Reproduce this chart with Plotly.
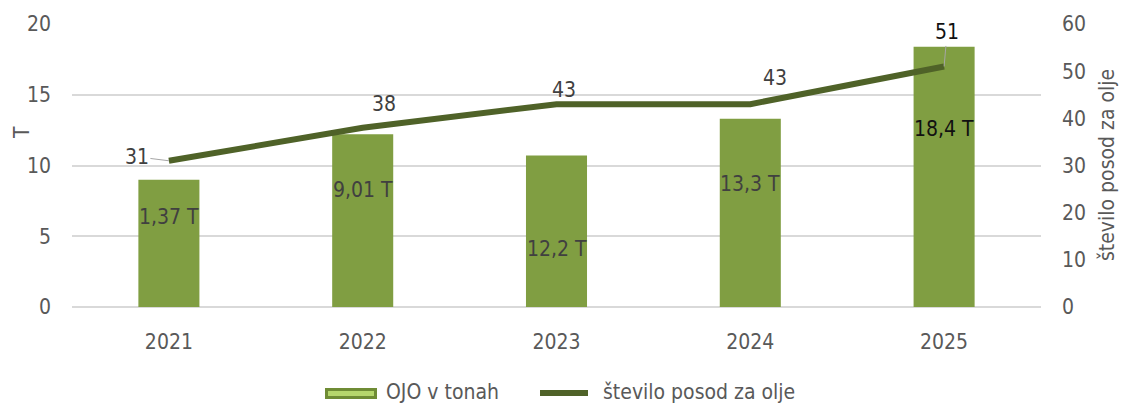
import plotly.graph_objects as go

# Data
years = ["2021", "2022", "2023", "2024", "2025"]
ojo_tonnes = [9.0, 12.2, 10.7, 13.3, 18.4]           # bar heights (T)
ojo_labels = ["1,37 T", "9,01 T", "12,2 T", "13,3 T", "18,4 T"]
container_count = [31, 38, 43, 43, 51]                 # število posod za olje

# Styling / label placement
FONT = "DejaVu Sans Condensed, DejaVu Sans, sans-serif"
BAR_COLOR = "#809E42"
LINE_COLOR = "#4F6228"
TEXT_COLOR = "#404040"
TICK_COLOR = "#595959"
GRID_COLOR = "#D9D9D9"
bar_label_shift = [-37, -56, -93, -65, -82]            # px below bar top
line_label_shift = [(0, 0), (21, 24), (7, 14), (25, 26), (0, 0)]

xpos = list(range(len(years)))

fig = go.Figure()

fig.add_trace(go.Bar(
    x=xpos, y=ojo_tonnes, name="OJO v tonah",
    marker=dict(color=BAR_COLOR, line=dict(width=0)),
    width=0.315, yaxis="y", showlegend=False,
))

fig.add_trace(go.Scatter(
    x=xpos, y=container_count, name="število posod za olje",
    mode="lines", line=dict(color=LINE_COLOR, width=6),
    yaxis="y2", showlegend=False,
))

W, H = 1123, 403
ML, MR, MT, MB = 72, 82, 24, 96
pw, ph = W - ML - MR, H - MT - MB


def px_x(px):
    return (px - ML) / pw


def px_y(py):
    return (H - MB - py) / ph


annotations = []

# Bar value labels
for i, (h, lab) in enumerate(zip(ojo_tonnes, ojo_labels)):
    last = i == len(years) - 1
    annotations.append(dict(
        x=xpos[i], y=h, xref="x", yref="y", text=lab, showarrow=False,
        yshift=bar_label_shift[i], yanchor="middle",
        font=dict(family=FONT, size=21, color="#111111" if last else TEXT_COLOR),
    ))

# Line value labels
for i, v in enumerate(container_count):
    font = dict(family=FONT, size=21, color="#111111" if i == len(years) - 1 else TEXT_COLOR)
    if i == 0:
        annotations.append(dict(
            x=xpos[i], y=v, xref="x", yref="y2", text=str(v), showarrow=True,
            arrowhead=0, arrowwidth=1, arrowcolor="#A6A6A6", ax=-32, ay=-4,
            font=font,
        ))
    elif i == len(years) - 1:
        annotations.append(dict(
            x=xpos[i], y=v, xref="x", yref="y2", text=str(v), showarrow=True,
            arrowhead=0, arrowwidth=1, arrowcolor="#A6A6A6", ax=3, ay=-34,
            font=font,
        ))
    else:
        dx, dy = line_label_shift[i]
        annotations.append(dict(
            x=xpos[i], y=v, xref="x", yref="y2", text=str(v), showarrow=False,
            xshift=dx, yshift=dy, yanchor="middle", font=font,
        ))

# Axis titles
annotations.append(dict(
    x=px_x(22), y=px_y(133), xref="paper", yref="paper", text="T", showarrow=False,
    textangle=-90, xanchor="center", yanchor="middle",
    font=dict(family=FONT, size=21, color=TICK_COLOR),
))
annotations.append(dict(
    x=px_x(1107), y=px_y(165), xref="paper", yref="paper", text="število posod za olje",
    showarrow=False, textangle=-90, xanchor="center", yanchor="middle",
    font=dict(family=FONT, size=21, color=TICK_COLOR),
))

# Legend (drawn manually)
annotations.append(dict(
    x=px_x(384), y=px_y(392), xref="paper", yref="paper", text="OJO v tonah",
    showarrow=False, xanchor="left", yanchor="middle",
    font=dict(family=FONT, size=21, color=TICK_COLOR),
))
annotations.append(dict(
    x=px_x(601), y=px_y(392), xref="paper", yref="paper", text="število posod za olje",
    showarrow=False, xanchor="left", yanchor="middle",
    font=dict(family=FONT, size=21, color=TICK_COLOR),
))

shapes = [
    # bar legend swatch (bevelled)
    dict(type="rect", xref="paper", yref="paper",
         x0=px_x(325), x1=px_x(377), y0=px_y(399), y1=px_y(388),
         fillcolor="#6F8C35", line=dict(width=0)),
    dict(type="rect", xref="paper", yref="paper",
         x0=px_x(328), x1=px_x(374), y0=px_y(396), y1=px_y(391),
         fillcolor="#B5D66C", line=dict(width=0)),
    # line legend swatch
    dict(type="line", xref="paper", yref="paper",
         x0=px_x(540), x1=px_x(588), y0=px_y(393), y1=px_y(393),
         line=dict(color=LINE_COLOR, width=6)),
]

fig.update_layout(
    width=W, height=H,
    margin=dict(l=ML, r=MR, t=MT, b=MB, autoexpand=False),
    paper_bgcolor="white", plot_bgcolor="white",
    font=dict(family=FONT, size=21, color=TICK_COLOR),
    xaxis=dict(
        range=[-0.5, len(years) - 0.5], tickvals=xpos, ticktext=years,
        showgrid=False, showline=False, zeroline=False, ticks="",
        tickfont=dict(family=FONT, size=21, color=TICK_COLOR),
        ticklabelstandoff=20,
    ),
    yaxis=dict(
        range=[0, 20], tickvals=[0, 5, 10, 15, 20], showgrid=True,
        gridcolor=GRID_COLOR, gridwidth=1.5, zeroline=True, zerolinecolor=GRID_COLOR,
        zerolinewidth=1.5, showline=False, ticks="",
        tickfont=dict(family=FONT, size=21, color=TICK_COLOR),
        ticklabelstandoff=20,
    ),
    yaxis2=dict(
        range=[0, 60], tickvals=[0, 10, 20, 30, 40, 50, 60], overlaying="y",
        side="right", showgrid=False, zeroline=False, showline=False, ticks="",
        tickfont=dict(family=FONT, size=21, color=TICK_COLOR),
        ticklabelstandoff=20,
    ),
    annotations=annotations,
    shapes=shapes,
    showlegend=False,
)

fig.write_html("out.html")
